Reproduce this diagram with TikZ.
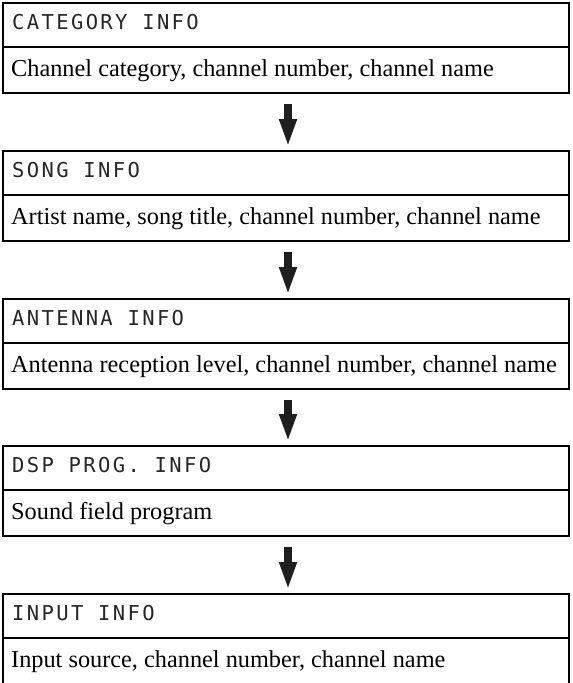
\documentclass[tikz,border=0pt]{standalone}
\usepackage{fontspec}
\setmainfont{Liberation Serif}
\newfontfamily\lcdfont[LetterSpace=11.6]{DejaVu Sans Mono}
\usetikzlibrary{arrows.meta}
\tikzset{
  x=1pt, y=-1pt,
  hdrbox/.style={draw, line width=2pt, minimum width=566pt, minimum height=44pt, inner sep=0pt},
  bodybox/.style={draw, line width=2pt, minimum width=566pt, minimum height=46pt, inner sep=0pt},
  hdrtxt/.style={anchor=base west, inner sep=0pt, text=black!85, font=\lcdfont\fontsize{20.5}{24}\selectfont},
  bodytxt/.style={anchor=base west, inner sep=0pt, font=\fontsize{24.3}{28}\selectfont},
  flowarrow/.style={line width=8pt, draw=black!88, -{Triangle[width=16pt,length=28pt]}, shorten <=10pt, shorten >=3pt},
}
\begin{document}
\begin{tikzpicture}
\useasboundingbox (0,0) rectangle (573,683);
\foreach \i/\t/\h/\b in {1/3/CATEGORY INFO/{Channel category, channel number, channel name},
                        2/151/SONG INFO/{Artist name, song title, channel number, channel name},
                        3/299/ANTENNA INFO/{Antenna reception level, channel number, channel name},
                        4/446/DSP PROG. INFO/{Sound field program},
                        5/594/INPUT INFO/{Input source, channel number, channel name}}{
  \node[hdrbox] (h\i) at (286,\t+22) {};
  \node[bodybox] (b\i) at (286,\t+67) {};
  \node[hdrtxt] (ht\i) at ([xshift=10pt,yshift=-27pt]h\i.north west) {\h};
  \node[bodytxt] (bt\i) at ([xshift=9pt,yshift=-30pt]b\i.north west) {\b};
}
\foreach \i/\j in {1/2,2/3,3/4,4/5}{
  \draw[flowarrow] ([xshift=2pt]b\i.south) -- ([xshift=2pt]h\j.north);
}
\end{tikzpicture}
\end{document}
